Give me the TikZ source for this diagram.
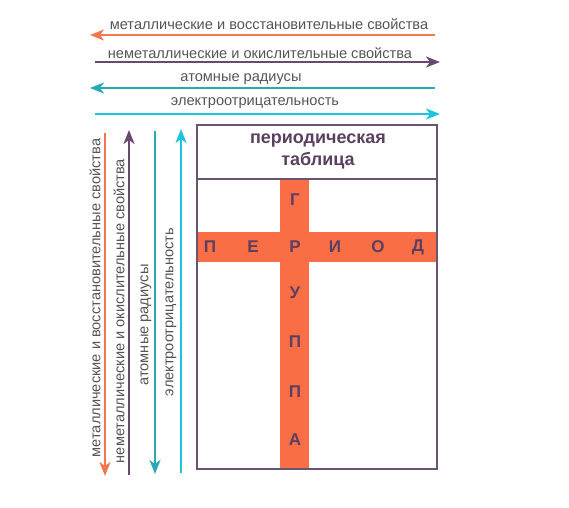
\documentclass[tikz,border=0pt]{standalone}
\usepackage{fontspec}
\setmainfont{Liberation Sans}
\usetikzlibrary{arrows.meta}
\definecolor{cOr}{HTML}{F2764E}
\definecolor{cPu}{HTML}{674A6E}
\definecolor{cTe}{HTML}{2AAAB2}
\definecolor{cCy}{HTML}{1EC3DF}
\definecolor{cBox}{HTML}{6A5472}
\definecolor{cFill}{HTML}{FA6E45}
\definecolor{cLet}{HTML}{5B3F60}
\definecolor{cTxt}{HTML}{555555}
\tikzset{
  arr/.style={line width=1.8pt,-{Stealth[length=14pt,width=11pt,inset=4pt]}},
  lbl/.style={inner sep=0pt,text=cTxt,font=\fontsize{14.6}{16}\selectfont},
  vlbl/.style={lbl,rotate=90},
  let/.style={inner sep=0pt,text=cLet,font=\bfseries\fontsize{17}{19}\selectfont},
  hdr/.style={inner sep=0pt,text=cLet,align=center,font=\bfseries\fontsize{18}{22}\selectfont},
}
\begin{document}
\begin{tikzpicture}[x=1pt,y=-1pt]
\useasboundingbox (0,0) rectangle (569,507);
% top arrows
\coordinate (h1a) at (435,35); \coordinate (h1b) at (90,35);
\coordinate (h2a) at (95,62);  \coordinate (h2b) at (440,62);
\coordinate (h3a) at (435,88); \coordinate (h3b) at (90,88);
\coordinate (h4a) at (95,114); \coordinate (h4b) at (440,114);
\draw[arr,cOr] (h1a) -- (h1b);
\draw[arr,cPu] (h2a) -- (h2b);
\draw[arr,cTe] (h3a) -- (h3b);
\draw[arr,cCy] (h4a) -- (h4b);
\node[lbl] (t1) at (269,24) {металлические и восстановительные свойства};
\node[lbl] (t2) at (260,53) {неметаллические и окислительные свойства};
\node[lbl] (t3) at (241,79) {атомные радиусы};
\node[lbl] (t4) at (255,103) {электроотрицательность};
% vertical arrows
\coordinate (v1a) at (105,133); \coordinate (v1b) at (105,476);
\coordinate (v2a) at (129,475); \coordinate (v2b) at (129,130);
\coordinate (v3a) at (155,131); \coordinate (v3b) at (155,474);
\coordinate (v4a) at (181,473); \coordinate (v4b) at (181,129);
\draw[arr,cOr] (v1a) -- (v1b);
\draw[arr,cPu] (v2a) -- (v2b);
\draw[arr,cTe] (v3a) -- (v3b);
\draw[arr,cCy] (v4a) -- (v4b);
\node[vlbl] (s1) at (95,298) {металлические и восстановительные свойства};
\node[vlbl] (s2) at (119,311) {неметаллические и окислительные свойства};
\node[vlbl] (s3) at (146,325) {атомные радиусы};
\node[vlbl] (s4) at (171,312) {электроотрицательность};
% cross
\fill[cFill] (280,179) rectangle (309,469);
\fill[cFill] (198,232) rectangle (436,262);
% table
\node[draw=cBox,line width=2pt,minimum width=240pt,minimum height=344pt,inner sep=0pt] (tab) at (317,297) {};
\draw[cBox,line width=2pt] (tab.west |- 0,179) coordinate (hl) -- (tab.east |- 0,179) coordinate (hr);
\node[hdr] (hd) at (318,151) {периодическая\\таблица};
% letters
\node[let] (p1) at (210,247) {П};
\node[let] (p2) at (253,247) {Е};
\node[let] (p3) at (295,247) {Р};
\node[let] (p4) at (335,247) {И};
\node[let] (p5) at (378,247) {О};
\node[let] (p6) at (418,247) {Д};
\node[let] (g1) at (295,200) {Г};
\node[let] (g3) at (295,293) {У};
\node[let] (g4) at (295,342) {П};
\node[let] (g5) at (295,392) {П};
\node[let] (g6) at (295,440) {А};
\end{tikzpicture}
\end{document}
